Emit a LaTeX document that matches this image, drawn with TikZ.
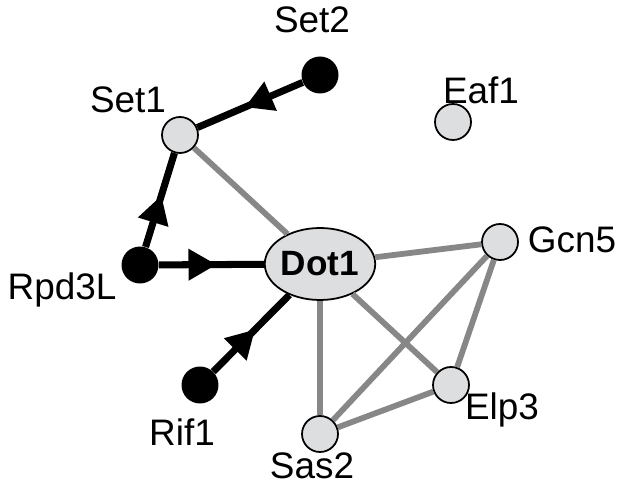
\documentclass[tikz,border=0pt]{standalone}
\usepackage{fontspec}
\setmainfont{Liberation Sans}
\usetikzlibrary{shapes.geometric,arrows.meta,decorations.markings}

\definecolor{nodegray}{RGB}{221,222,224}
\definecolor{edgegray}{RGB}{135,135,135}

\tikzset{
  prot/.style={circle, draw=black, line width=1pt, fill=nodegray, minimum size=0.72cm, inner sep=0pt},
  reg/.style={circle, fill=black, minimum size=0.74cm, inner sep=0pt},
  lbl/.style={font=\fontsize{21}{25}\selectfont, inner sep=0pt},
  gline/.style={draw=edgegray, line width=3.3pt},
  act/.style={draw=black, line width=4pt,
    decoration={markings, mark=at position 0.55 with {\arrow{Triangle[length=16pt,width=17pt]}}},
    postaction={decorate}}
}

\begin{document}
\begin{tikzpicture}[x=0.02cm, y=-0.02cm]
  \useasboundingbox (0,0) rectangle (625,489);
  % proteins
  \node[ellipse, draw=black, line width=1pt, fill=nodegray, minimum width=2.2cm, minimum height=1.44cm,
        inner sep=0pt, font=\fontsize{20}{24}\selectfont\bfseries] (dot1) at (320,264) {Dot1};
  \node[prot] (set1) at (180,135) {};
  \node[prot] (eaf1) at (453,122) {};
  \node[prot] (gcn5) at (500,242) {};
  \node[prot] (elp3) at (451,385) {};
  \node[prot] (sas2) at (320,434) {};
  \node[reg] (set2) at (320,75) {};
  \node[reg] (rpd3l) at (140,265) {};
  \node[reg] (rif1) at (200,385) {};
  % labels
  \node[lbl] (set2-l) at (312,20) {Set2};
  \node[lbl] (set1-l) at (128,100) {Set1};
  \node[lbl] (eaf1-l) at (481,90) {Eaf1};
  \node[lbl] (gcn5-l) at (572,240) {Gcn5};
  \node[lbl] (rpd3l-l) at (62,290) {Rpd3L};
  \node[lbl] (rif1-l) at (182,432) {Rif1};
  \node[lbl] (elp3-l) at (502,410) {Elp3};
  \node[lbl] (sas2-l) at (312,466) {Sas2};
  % interactions
  \path
  (set1) edge[gline] (dot1)
  (dot1) edge[gline] (gcn5)
  (dot1) edge[gline] (sas2)
  (dot1) edge[gline] (elp3)
  (gcn5) edge[gline] (sas2)
  (gcn5) edge[gline] (elp3)
  (sas2) edge[gline] (elp3)
  (set2) edge[act] (set1)
  (rpd3l) edge[act] (set1)
  (rpd3l) edge[act] (dot1)
  (rif1) edge[act] (dot1)
;
\end{tikzpicture}
\end{document}
